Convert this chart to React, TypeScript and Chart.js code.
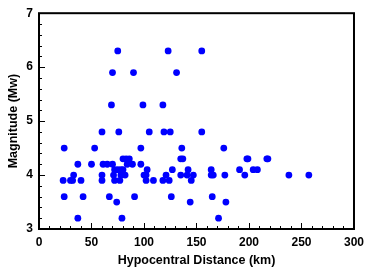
import React, { useEffect, useRef } from "react";
import { Chart, registerables } from "chart.js";

Chart.register(...registerables);

// Hypocentral distance (km) and magnitude (Mw) of each event
const distanceKm: number[] = [
  75, 123, 155,
  70, 90, 131,
  69, 99, 118,
  60, 76, 105, 119, 125, 155,
  24, 53, 97, 136, 176,
  80, 83, 86, 135, 137, 198, 199, 217, 218,
  37, 50, 61, 65, 70, 84, 89, 97,
  72, 75, 78, 80, 103, 127, 142, 164, 191, 204, 208,
  33, 60, 71, 78, 82, 100, 102, 121, 135, 141, 147, 164, 166, 177, 196, 238, 257,
  23, 30, 32, 40, 60, 72, 77, 102, 109, 118, 124, 145,
  24, 42, 67, 91, 126, 165,
  74, 144, 178,
  37, 79, 171,
];
const magnitudeMw: number[] = [
  6.3, 6.3, 6.3,
  5.9, 5.9, 5.9,
  5.3, 5.3, 5.3,
  4.8, 4.8, 4.8, 4.8, 4.8, 4.8,
  4.5, 4.5, 4.5, 4.5, 4.5,
  4.3, 4.3, 4.3, 4.3, 4.3, 4.3, 4.3, 4.3, 4.3,
  4.2, 4.2, 4.2, 4.2, 4.2, 4.2, 4.2, 4.2,
  4.1, 4.1, 4.1, 4.1, 4.1, 4.1, 4.1, 4.1, 4.1, 4.1, 4.1,
  4.0, 4.0, 4.0, 4.0, 4.0, 4.0, 4.0, 4.0, 4.0, 4.0, 4.0, 4.0, 4.0, 4.0, 4.0, 4.0, 4.0,
  3.9, 3.9, 3.9, 3.9, 3.9, 3.9, 3.9, 3.9, 3.9, 3.9, 3.9, 3.9,
  3.6, 3.6, 3.6, 3.6, 3.6, 3.6,
  3.5, 3.5, 3.5,
  3.2, 3.2, 3.2,
];

const xTitle = "Hypocentral Distance (km)";
const yTitle = "Magnitude (Mw)";
const xMin = 0, xMax = 300, xMajor = 50, xMinor = 10;
const yMin = 3, yMax = 7, yMajor = 1, yMinor = 0.2;

const framePlugin = {
  id: "frameTicks",
  afterDatasetsDraw(chart: any) {
    const { ctx, chartArea } = chart;
    const xs = chart.scales.x;
    const ys = chart.scales.y;
    ctx.save();
    ctx.strokeStyle = "#000";
    ctx.lineWidth = 1;
    ctx.beginPath();
    for (let v = xMin; v <= xMax + 1e-9; v += xMinor) {
      const major = Math.abs(v / xMajor - Math.round(v / xMajor)) < 1e-6;
      const px = Math.round(xs.getPixelForValue(v)) + 0.5;
      const len = major ? 6 : 3;
      ctx.moveTo(px, chartArea.bottom);
      ctx.lineTo(px, chartArea.bottom - len);
    }
    for (let i = 0; i <= Math.round((yMax - yMin) / yMinor); i++) {
      const v = yMin + i * yMinor;
      const major = Math.abs(v / yMajor - Math.round(v / yMajor)) < 1e-6;
      const py = Math.round(ys.getPixelForValue(v)) + 0.5;
      const len = major ? 6 : 3;
      ctx.moveTo(chartArea.left, py);
      ctx.lineTo(chartArea.left + len, py);
    }
    ctx.stroke();
    ctx.lineWidth = 2;
    ctx.strokeRect(
      chartArea.left,
      chartArea.top,
      chartArea.right - chartArea.left,
      chartArea.bottom - chartArea.top
    );
    ctx.restore();
  },
};

export default function App() {
  const ref = useRef<HTMLCanvasElement | null>(null);
  useEffect(() => {
    if (!ref.current) return;
    const points = distanceKm.map((d, i) => ({ x: d, y: magnitudeMw[i] }));
    const tickFont = { family: "Arial, 'Liberation Sans', sans-serif", size: 12, weight: "bold" as const };
    const titleFont = { family: "Arial, 'Liberation Sans', sans-serif", size: 12.5, weight: "bold" as const };
    const chart = new Chart(ref.current, {
      type: "scatter",
      data: {
        datasets: [
          {
            data: points,
            backgroundColor: "rgb(0,0,255)",
            borderColor: "rgb(0,0,255)",
            borderWidth: 0,
            pointRadius: 3.4,
            pointHoverRadius: 3.4,
          },
        ],
      },
      plugins: [framePlugin],
      options: {
        animation: false,
        responsive: false,
        devicePixelRatio: 1,
        layout: { padding: { top: 10, right: 16, left: 0, bottom: 0 } },
        plugins: { legend: { display: false }, tooltip: { enabled: false } },
        scales: {
          x: {
            type: "linear",
            min: xMin,
            max: xMax,
            grid: { display: false, drawTicks: false },
            border: { display: false },
            ticks: { stepSize: xMajor, font: tickFont, color: "#000", padding: 6, maxRotation: 0 },
            title: { display: true, text: xTitle, font: titleFont, color: "#000", padding: { top: 3, bottom: 3 } },
            afterFit: (s: any) => { s.height = 42; },
          },
          y: {
            type: "linear",
            min: yMin,
            max: yMax,
            grid: { display: false, drawTicks: false },
            border: { display: false },
            ticks: { stepSize: yMajor, font: tickFont, color: "#000", padding: 6 },
            title: { display: true, text: yTitle, font: titleFont, color: "#000", padding: { top: 6, bottom: 6 } },
            afterFit: (s: any) => { s.width = 39; },
          },
        },
      },
    });
    return () => chart.destroy();
  }, []);
  return (
    <div style={{ position: "fixed", left: 0, top: 0, width: 370, height: 271, background: "#fff" }}>
      <canvas ref={ref} width={370} height={271} style={{ width: 370, height: 271 }} />
    </div>
  );
}
